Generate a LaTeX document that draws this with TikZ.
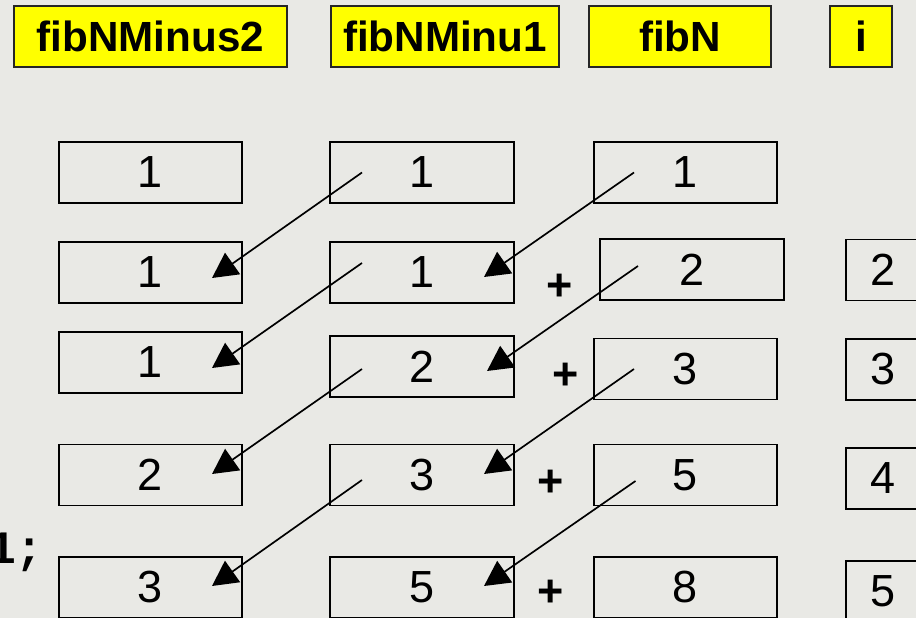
\documentclass[tikz,border=0pt]{standalone}
\usepackage{fontspec}
\setmainfont{Liberation Sans}
\newfontfamily\codefont{Liberation Mono}
\usetikzlibrary{arrows.meta,calc}

\definecolor{paper}{RGB}{233,233,229}
\definecolor{headyellow}{RGB}{255,255,0}

\tikzset{
  varname/.style={draw=black!85, fill=headyellow, line width=1.6pt, inner sep=0pt,
    minimum height=1.525cm, font=\bfseries\fontsize{30}{30}\selectfont},
  cell/.style={draw=black, line width=1.4pt, inner sep=0pt, minimum width=4.575cm,
    minimum height=1.525cm, font=\fontsize{32}{32}\selectfont},
  icell/.style={cell, minimum width=1.85cm},
  plus/.style={inner sep=0pt, font=\bfseries\fontsize{32}{32}\selectfont},
  copyarrow/.style={line width=1.2pt, -{Triangle[length=0.63cm, width=0.65cm]}}
}

\begin{document}
\begin{tikzpicture}[x=0.025cm, y=-0.025cm]

  \useasboundingbox (0,0) rectangle (916,618);
  \fill[paper] (0,0) rectangle (916,618);

  % variable names
  \node[varname, minimum width=6.825cm] (nm2) at (150.5, 36.5) {fibNMinus2};
  \node[varname, minimum width=5.7cm] (nm1) at (445, 36.5) {fibNMinu1};
  \node[varname, minimum width=4.55cm] (fn) at (680, 36.5) {fibN};
  \node[varname, minimum width=1.55cm] (ii) at (861, 36.5) {i};

  % fibNMinus2
  \node[cell] (a1) at (150.5, 172.5) {1};
  \node[cell] (a2) at (150.5, 272.5) {1};
  \node[cell] (a3) at (150.5, 362.5) {1};
  \node[cell] (a4) at (150.5, 475) {2};
  \node[cell] (a5) at (150.5, 587.5) {3};

  % fibNMinu1
  \node[cell] (b1) at (422, 172.5) {1};
  \node[cell] (b2) at (422, 272.5) {1};
  \node[cell] (b3) at (422, 366.5) {2};
  \node[cell] (b4) at (422, 475) {3};
  \node[cell] (b5) at (422, 587.5) {5};

  % fibN
  \node[cell] (c1) at (685.5, 172.5) {1};
  \node[cell] (c2) at (692, 269.5) {2};
  \node[cell] (c3) at (685.5, 369) {3};
  \node[cell] (c4) at (685.5, 475) {5};
  \node[cell] (c5) at (685.5, 587.5) {8};

  % i
  \node[icell] (i2) at (883, 270) {2};
  \node[icell] (i3) at (883, 369.5) {3};
  \node[icell] (i4) at (883, 478.5) {4};
  \node[icell] (i5) at (883, 591.5) {5};

  \node[plus] (p2) at (560, 287) {+};
  \node[plus] (p3) at (566, 376) {+};
  \node[plus] (p4) at (551, 483) {+};
  \node[plus] (p5) at (551, 593) {+};

  % end of a code line, cut by the left edge
  \node[anchor=base east, inner sep=0pt,
    font=\codefont\bfseries\fontsize{33}{33}\selectfont] (tail) at (44, 563) {1;};

  \foreach \from/\to/\fx/\fy/\tx/\ty in
    {
        b1/a2/-60/0/61.5/5.5, b2/a3/-60/-9.5/61.5/5.5,
        b3/a4/-60/2.5/61.5/-1, b4/a5/-60/5/61.5/-1.5,
        c1/b2/-51.5/0/62/4.5, c2/b3/-54/-3.5/65/4.5,
        c3/b4/-51.5/0/62/-1, c4/b5/-50/6/62/-1.5
    }
    {
        \draw[copyarrow] ($(\from)+(\fx,\fy)$) -- ($(\to)+(\tx,\ty)$);
    }

\end{tikzpicture}
\end{document}
